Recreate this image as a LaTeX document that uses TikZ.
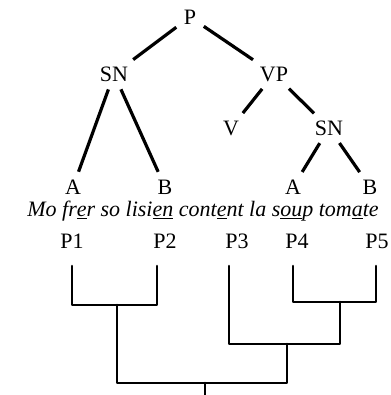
\documentclass[tikz,border=0pt]{standalone}
\usepackage{fontspec}
\setmainfont{Liberation Serif}
\newcommand{\ul}[1]{\underline{#1}}
\begin{document}
\begin{tikzpicture}[x=1pt,y=-1pt,
  lbl/.style={inner sep=5pt,font=\fontsize{22}{24}\selectfont},
  edge/.style={line width=3.2pt,shorten <=3pt,shorten >=3pt},
  brk/.style={line width=2.6pt,line join=round,line cap=round}]
\useasboundingbox (0,0) rectangle (390,395);
\node[lbl] (P) at (190,17) {P};
\node[lbl] (SN) at (114,74) {SN};
\node[lbl] (VP) at (274,74) {VP};
\node[lbl] (V) at (231,128) {V};
\node[lbl] (SN2) at (329,128) {SN};
\node[lbl] (A1) at (73,187) {A};
\node[lbl] (B1) at (165,187) {B};
\node[lbl] (A2) at (293,187) {A};
\node[lbl] (B2) at (370,187) {B};
\node[lbl,font=\fontsize{22}{24}\selectfont\itshape] (S) at (203,211)
  {Mo fr\ul{e}r so lisi\ul{en} cont\ul{e}nt la s\ul{ou}p tom\ul{a}te};
\node[lbl] (P1) at (72,241) {P1};
\node[lbl] (P2) at (165,241) {P2};
\node[lbl] (P3) at (237,241) {P3};
\node[lbl] (P4) at (297,241) {P4};
\node[lbl] (P5) at (377,241) {P5};
\draw[edge] (P) -- (SN);
\draw[edge] (P) -- (VP);
\draw[edge] (SN) -- (A1);
\draw[edge] (SN) -- (B1);
\draw[edge] (VP) -- (V);
\draw[edge] (VP) -- (SN2);
\draw[edge] (SN2) -- (A2);
\draw[edge] (SN2) -- (B2);
% bracket coordinates
\coordinate (t1) at (72,266);
\coordinate (t2) at (157,266);
\coordinate (t3) at (229,266);
\coordinate (t4) at (293,266);
\coordinate (t5) at (376,266);
\coordinate (j12) at (117,305);
\coordinate (j45) at (340,302);
\coordinate (j345) at (287,344);
\coordinate (root) at (205,383);
\coordinate (end) at (205,395);
\draw[brk] (t1) |- (j12) -| (t2);
\draw[brk] (t4) |- (j45) -| (t5);
\draw[brk] (t3) |- (j345) -| (j45);
\draw[brk] (j12) |- (root) -| (j345);
\draw[brk] (root) -- (end);
\end{tikzpicture}
\end{document}
